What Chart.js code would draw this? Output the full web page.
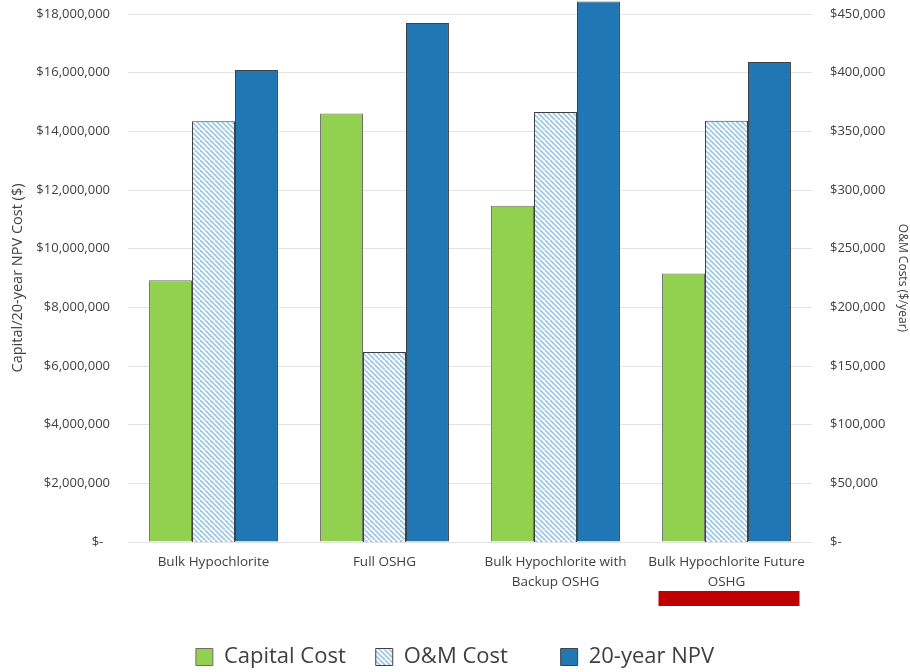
<!DOCTYPE html>
<html><head><meta charset="utf-8">
<script src="https://cdn.jsdelivr.net/npm/chart.js@4.4.1/dist/chart.umd.min.js"></script>
<style>html,body{margin:0;padding:0;background:#fff}#wrap{width:910px;height:672px}</style>
</head><body><div id="wrap"><canvas id="c" width="910" height="672"></canvas></div>
<script>
const categories = [["Bulk Hypochlorite"], ["Full OSHG"], ["Bulk Hypochlorite with", "Backup OSHG"], ["Bulk Hypochlorite Future", "OSHG"]];
const seriesNames = ["Capital Cost", "O&M Cost", "20-year NPV"];
const capitalCost = [8920000, 14610000, 11460000, 9150000];
const omCost = [358700, 162000, 366400, 359000];
const npv20 = [16090000, 17690000, 18430000, 16360000];
const leftTickValues = [0, 2000000, 4000000, 6000000, 8000000, 10000000, 12000000, 14000000, 16000000, 18000000];
const rightTickValues = [0, 50000, 100000, 150000, 200000, 250000, 300000, 350000, 400000, 450000];

const TXT = '#404040';
const FONT = 'Open Sans';

function hatch() {
  const t = document.createElement('canvas');
  t.width = 10; t.height = 10;
  const g = t.getContext('2d');
  g.fillStyle = '#ffffff'; g.fillRect(0, 0, 10, 10);
  g.strokeStyle = '#9fc8e6'; g.lineWidth = 1.8;
  for (let k = -10; k <= 20; k += 5) {
    g.beginPath(); g.moveTo(k, 0); g.lineTo(k + 10, 10); g.stroke();
  }
  return g.createPattern(t, 'repeat');
}
const hatchPattern = hatch();

function money(v) {
  if (v === 0) return '$-  ';
  return '$' + v.toLocaleString('en-US');
}

const LEG_FONT = 22, LEG_PAD = 30;

const redMark = {
  id: 'redMark',
  afterLayout(chart) {
    const lg = chart.legend;
    if (lg) {
      const newTop = 657 - LEG_PAD - LEG_FONT / 2;
      const shift = newTop - lg.top;
      lg.top += shift; lg.bottom += shift;
    }
  },
  afterDraw(chart) {
    const x = chart.scales.x;
    const cx = x.getPixelForValue(3);
    const ctx = chart.ctx;
    ctx.save();
    ctx.fillStyle = '#c00000';
    ctx.fillRect(cx - 68, 591, 141, 15);
    ctx.restore();
  }
};

new Chart(document.getElementById('c'), {
  type: 'bar',
  data: {
    labels: categories,
    datasets: [
      { label: seriesNames[0], data: capitalCost, yAxisID: 'y', backgroundColor: '#92d050', borderColor: '#6f6f6f', borderWidth: 1, clip: false },
      { label: seriesNames[1], data: omCost, yAxisID: 'y1', backgroundColor: hatchPattern, borderColor: '#404040', borderWidth: 1, clip: false },
      { label: seriesNames[2], data: npv20, yAxisID: 'y', backgroundColor: '#2077b4', borderColor: '#404040', borderWidth: 1, clip: false }
    ]
  },
  options: {
    responsive: false,
    animation: false,
    categoryPercentage: 0.754,
    barPercentage: 1.0,
    layout: { padding: { top: 14, bottom: 0, left: 0, right: 0 } },
    plugins: {
      legend: {
        position: 'bottom',
        labels: {
          font: { family: FONT, size: LEG_FONT },
          color: TXT,
          boxWidth: 17,
          boxHeight: 17,
          padding: LEG_PAD,
          generateLabels(chart) {
            const items = Chart.defaults.plugins.legend.labels.generateLabels(chart);
            if (items[1]) items[1].text = items[1].text + '    ';
            return items;
          }
        }
      },
      tooltip: { enabled: false }
    },
    scales: {
      x: {
        grid: { display: false, drawTicks: false },
        border: { display: false },
        ticks: { font: { family: FONT, size: 13.5, lineHeight: 1.48 }, color: TXT, padding: 10, maxRotation: 0, autoSkip: false },
        afterFit(s) { s.height = 130 - (s.chart.legend ? s.chart.legend.height : 40); s.paddingLeft = 0; s.paddingRight = 0; }
      },
      y: {
        position: 'left',
        min: 0, max: 18000000,
        afterBuildTicks(s) { s.ticks = leftTickValues.map(v => ({ value: v })); },
        grid: { color: '#e3e3e3', lineWidth: 1, drawTicks: false },
        border: { display: false },
        ticks: { font: { family: FONT, size: 13 }, color: TXT, padding: 18, callback: v => money(v) },
        title: { display: true, text: 'Capital/20-year NPV Cost ($)', font: { family: FONT, size: 14.5 }, color: TXT, padding: { top: 9, bottom: 0 } },
        afterFit(s) { s.width = 128; s.paddingTop = 0; s.paddingBottom = 0; }
      },
      y1: {
        position: 'right',
        min: 0, max: 450000,
        afterBuildTicks(s) { s.ticks = rightTickValues.map(v => ({ value: v })); },
        grid: { display: false, drawTicks: false },
        border: { display: false },
        ticks: { font: { family: FONT, size: 13 }, color: TXT, padding: 18, callback: v => money(v) },
        title: { display: true, text: 'O&M Costs ($/year)', font: { family: FONT, size: 12 }, color: TXT, padding: { top: 0, bottom: 0 } },
        afterFit(s) { s.width = 98; s.paddingTop = 0; s.paddingBottom = 0; }
      }
    }
  },
  plugins: [redMark]
});
</script>
</body></html>
